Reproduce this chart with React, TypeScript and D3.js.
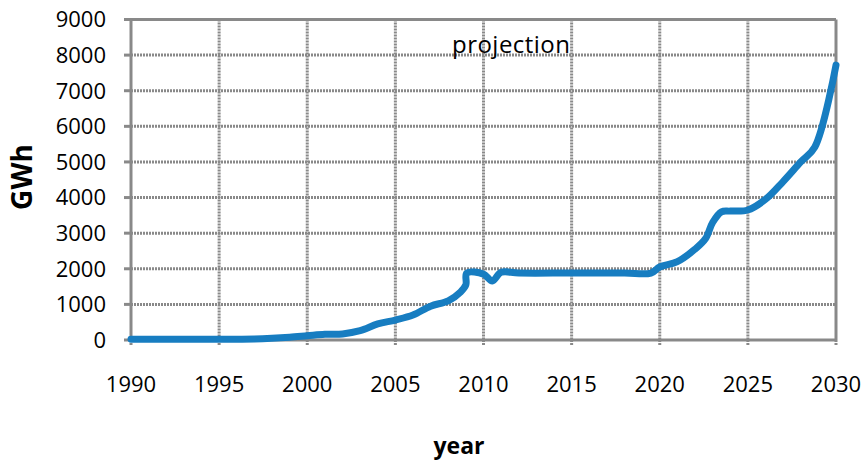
import React from "react";
import * as d3 from "d3";

const years = [1990, 1995, 1997, 1998, 1999, 2000, 2001, 2002, 2003, 2004, 2005, 2006, 2007, 2008, 2008.7, 2009, 2009.05, 2010, 2010.5, 2011, 2012, 2015, 2018, 2019.5, 2020, 2021, 2022, 2022.6, 2023, 2023.5, 2024, 2025, 2026, 2027, 2028, 2028.8, 2030];
const gwh = [20, 20, 30, 50, 80, 120, 160, 170, 260, 450, 560, 700, 950, 1100, 1350, 1550, 1880, 1850, 1660, 1900, 1880, 1880, 1880, 1880, 2050, 2200, 2550, 2850, 3300, 3600, 3620, 3650, 3950, 4450, 5000, 5420, 7720];
const xTicks = [1990, 1995, 2000, 2005, 2010, 2015, 2020, 2025, 2030];
const yTicks = [0, 1000, 2000, 3000, 4000, 5000, 6000, 7000, 8000, 9000];

const W = 862, H = 464;
const L = 131, R = 836, T = 19.5, B = 340;
const font = "'Open Sans', sans-serif";
const grid = "#898989";

export default function App() {
  const x = d3.scaleLinear().domain([1990, 2030]).range([L, R]);
  const y = d3.scaleLinear().domain([0, 9000]).range([B, T]);
  const pts = years.map((yr, i) => [x(yr), y(gwh[i])] as [number, number]);
  const line = d3.line().curve(d3.curveCatmullRom.alpha(0.5))(pts) || "";
  return (
    <div style={{ position: "absolute", left: 0, top: 0 }}>
      <svg width={W} height={H} style={{ display: "block", background: "#fff" }}>
        {yTicks.map((t) => (
          <g key={"y" + t}>
            {t > 0 && t < 9000 && (
              <line x1={L} x2={R} y1={y(t)} y2={y(t)} stroke={grid} strokeWidth={3} strokeDasharray="2,1" />
            )}
            <line x1={L - 7} x2={L} y1={y(t)} y2={y(t)} stroke={grid} strokeWidth={3} />
            <text x={106} y={y(t)} dy="0.36em" textAnchor="end" fontFamily={font} fontSize={22} fill="#000">
              {t}
            </text>
          </g>
        ))}
        {xTicks.map((t) => (
          <g key={"x" + t}>
            {t > 1990 && t < 2030 && (
              <line x1={x(t)} x2={x(t)} y1={T} y2={B} stroke={grid} strokeWidth={3} strokeDasharray="2,1" />
            )}
            <line x1={x(t)} x2={x(t)} y1={B} y2={B + 5} stroke={grid} strokeWidth={3} strokeDasharray="2,1" />
            <text x={x(t)} y={392} textAnchor="middle" fontFamily={font} fontSize={22} fill="#000">
              {t}
            </text>
          </g>
        ))}
        <line x1={L} x2={R} y1={T} y2={T} stroke={grid} strokeWidth={3} />
        <line x1={L} x2={R} y1={B} y2={B} stroke={grid} strokeWidth={3} />
        <line x1={L} x2={L} y1={T} y2={B} stroke={grid} strokeWidth={3} />
        <line x1={R} x2={R} y1={T} y2={B} stroke={grid} strokeWidth={3} />
        <text x={452} y={53} fontFamily={font} fontSize={24} fill="#000" textLength={118}>projection</text>
        <path d={line} fill="none" stroke="#177dc1" strokeWidth={7} strokeLinejoin="round" strokeLinecap="round" />
        <text transform={`translate(32,177) rotate(-90)`} textAnchor="middle" fontFamily={font} fontWeight="bold" fontSize={28} fill="#000">GWh</text>
        <text x={459} y={454} textAnchor="middle" fontFamily={font} fontWeight="bold" fontSize={23} fill="#000">year</text>
      </svg>
    </div>
  );
}
